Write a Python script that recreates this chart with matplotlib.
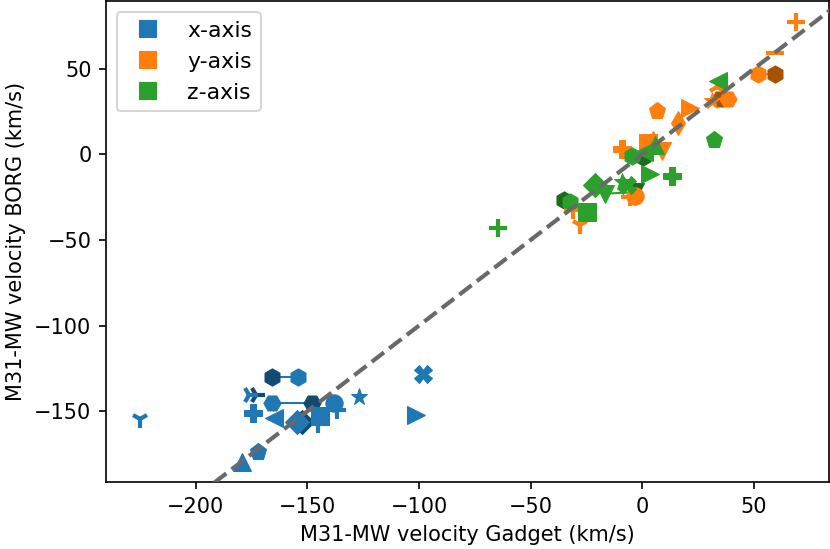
import matplotlib.pyplot as plt
from matplotlib.lines import Line2D

# gadget velocity, borg velocity, marker  (one entry per halo pair)
x_gadget = [-225.2, -154.1, -176.2, -174.4, -165.0, -165.8, -154.6, -144.4,
            -145.3, -138.2, -136.7, -127.0, -98.2, -101.2, -172.2, -179.2]
x_borg = [-154.8, -129.9, -140.6, -150.9, -154.2, -145.5, -156.2, -152.9,
          -157.5, -145.5, -149.4, -141.6, -128.0, -152.3, -174.0, -179.5]
x_marker = ['1', 'h', '4', 'P', '<', 'H', 'D', 's',
            '|', 'o', '+', '*', 'X', '>', 'p', '^']

y_gadget = [69.2, 59.5, 52.1, 33.4, 38.6, 31.2, 21.5, 6.9, 16.0, -9.1,
            2.8, 5.0, -27.8, -30.8, -5.4, -3.0, 8.8]
y_borg = [77.2, 59.1, 47.1, 39.3, 32.5, 31.5, 27.2, 25.7, 18.3, 3.3,
          6.5, 8.5, -41.4, -32.7, -24.9, -24.0, 2.3]
y_marker = ['+', '_', 'h', '2', 'H', '*', '>', 'p', 'd', 'P',
            's', '^', '1', '+', '+', 'o', 'v']

z_gadget = [34.2, 32.4, -4.6, 5.8, 3.6, 13.3, -9.1, -6.9, -21.0, -16.6,
            -32.2, -24.8, -64.5, 1.0]
z_borg = [43.2, 8.6, -0.6, 5.3, -11.3, -12.3, -16.1, -18.1, -18.1, -22.9,
          -27.8, -33.7, -43.2, 1.5]
z_marker = ['<', 'p', 'h', '^', '>', 'P', '*', 'X', 'D', 'v',
            'h', 's', '+', '<']

# second realisation of a few halos, drawn darker and linked to the first
# (axis, index into that axis' arrays, gadget, borg)
dark_axis = ['x', 'x', 'x', 'x', 'y', 'y', 'z', 'z', 'z']
dark_index = [1, 2, 5, 6, 2, 4, 2, 10, 9]
dark_gadget = [-166.1, -173.2, -147.9, -152.3, 59.5, 34.9, 0.6, -35.2, -3.0]
dark_borg = [-129.9, -140.6, -145.5, -156.2, 47.1, 32.5, -1.6, -26.8, -22.0]

colors = {'x': '#1f77b4', 'y': '#ff7f0e', 'z': '#2ca02c'}
dark_colors = {'x': '#124a72', 'y': '#a65200', 'z': '#1c6a1c'}
data = {'x': (x_gadget, x_borg, x_marker),
        'y': (y_gadget, y_borg, y_marker),
        'z': (z_gadget, z_borg, z_marker)}
line_markers = {'1', '2', '3', '4', '+', 'x', '|', '_'}

fig = plt.figure(figsize=(830 / 150, 549 / 150), dpi=150)
ax = fig.add_axes([106 / 830, 1 - 482 / 549, 723 / 830, 481 / 549])


def draw(ax, gx, gy, m, c, z):
    mew = 2.0 if m in line_markers else 0.5
    ax.plot(gx, gy, marker=m, ls='none', color=c, mec=c, ms=8.3, mew=mew,
            zorder=z)


for a, d_i, dg, db in zip(dark_axis, dark_index, dark_gadget, dark_borg):
    gx, gy, mk = data[a]
    ax.plot([gx[d_i], dg], [gy[d_i], db], color=colors[a], lw=1, zorder=1)
    draw(ax, dg, db, mk[d_i], dark_colors[a], 2)

for k, a in enumerate(['x', 'y', 'z']):
    gx, gy, mk = data[a]
    for px, py, m in zip(gx, gy, mk):
        draw(ax, px, py, m, colors[a], 3 + k)

ax.plot([-300, 100], [-300, 100], ls='--', color='dimgray', lw=2, zorder=10)

ax.set_xlim(-240.3, 83.8)
ax.set_ylim(-191.4, 89.7)
ax.set_xlabel('M31-MW velocity Gadget (km/s)')
ax.set_ylabel('M31-MW velocity BORG (km/s)')

handles = [Line2D([], [], marker='s', ls='none', color=colors[a], ms=7.5)
           for a in ['x', 'y', 'z']]
ax.legend(handles, ['x-axis', 'y-axis', 'z-axis'], loc='upper left',
          fontsize=10.5)

fig.savefig('out.png', dpi=150)
